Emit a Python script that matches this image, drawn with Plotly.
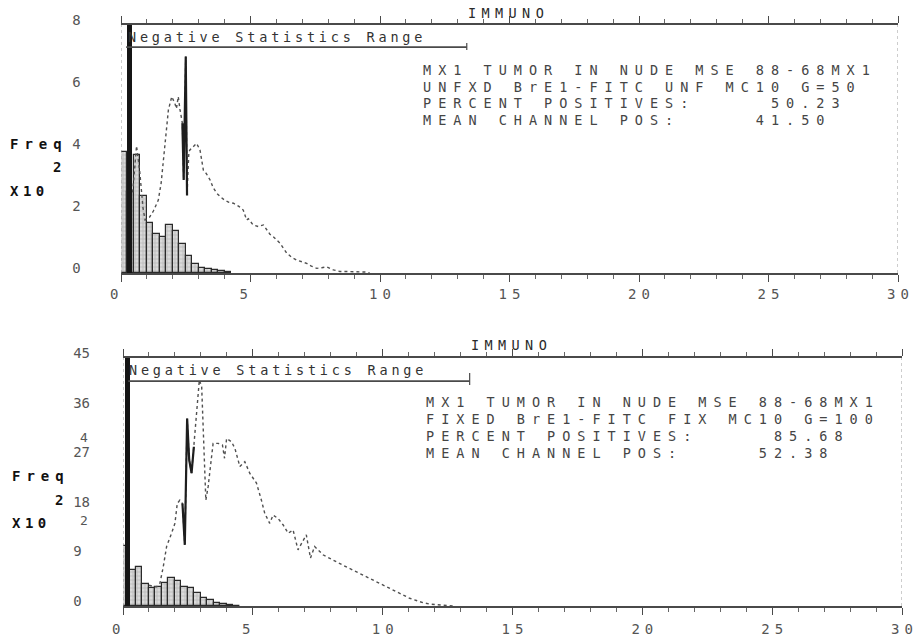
import plotly.graph_objects as go

W, H = 914, 638
MONO = "DejaVu Sans Mono"

# ---------------- data (Freq in units of 10^2) ----------------
x_tick_vals = [0, 5, 10, 15, 20, 25, 30]
x_tick_text = ["0", "5", "10", "15", "20", "25", "30"]

top_y_ticks = [0, 2, 4, 6, 8]
bot_y_ticks = [0, 9, 18, 27, 36, 45]

# Top panel: negative control histogram (bins 0.25 wide)
top_neg_x = [0.125, 0.375, 0.625, 0.875, 1.125, 1.375, 1.625, 1.875, 2.125,
             2.375, 2.625, 2.875, 3.125, 3.375, 3.625, 3.875, 4.125]
top_neg_y = [3.9, 2.6, 3.8, 2.5, 1.6, 1.25, 1.15, 1.55, 1.35,
             0.95, 0.55, 0.3, 0.16, 0.12, 0.09, 0.07, 0.04]
top_spike_x = [0.32]
top_spike_y = [20]

# Top panel: stained sample histogram
top_pos_x = [0.45, 0.6, 0.72, 0.85, 0.93, 1.1, 1.25, 1.44, 1.55, 1.63, 1.73, 1.83,
             1.96, 2.08, 2.14, 2.21, 2.28, 2.37, 2.42, 2.50, 2.55, 2.62, 2.66, 2.8,
             2.92, 3.05, 3.18, 3.3, 3.44, 3.56, 3.7, 3.85, 4.0, 4.17, 4.34, 4.55,
             4.72, 4.85, 4.92, 5.1, 5.3, 5.5, 5.62, 5.75, 5.88, 6.14, 6.4, 6.6,
             6.78, 7.0, 7.17, 7.35, 7.56, 7.75, 7.94, 8.2, 8.45, 8.7, 8.97, 9.23,
             9.45, 9.6]
top_pos_y = [2.6, 4.1, 3.3, 2.1, 1.71, 1.8, 2.0, 2.35, 2.9, 3.65, 4.5, 5.26,
             5.69, 5.47, 5.3, 5.69, 5.26, 4.83, 3.0, 6.98, 2.5, 3.9, 3.97, 4.1,
             4.18, 3.97, 3.32, 3.2, 3.0, 2.75, 2.57, 2.45, 2.35, 2.28, 2.25, 2.15,
             2.03, 1.71, 1.75, 1.55, 1.5, 1.55, 1.4, 1.25, 1.17, 0.96, 0.64, 0.5,
             0.42, 0.36, 0.31, 0.22, 0.15, 0.17, 0.2, 0.1, 0.05, 0.05, 0.04, 0.05,
             0.03, 0.0]
top_dark_x = [2.37, 2.42, 2.50, 2.55]
top_dark_y = [4.83, 3.0, 6.98, 2.5]

# Bottom panel: negative control histogram
bot_neg_x = [0.125, 0.375, 0.625, 0.875, 1.125, 1.375, 1.625, 1.875, 2.125,
             2.375, 2.625, 2.875, 3.125, 3.375, 3.625, 3.875, 4.125, 4.375]
bot_neg_y = [10.8, 6.5, 7.0, 4.0, 3.3, 3.4, 4.2, 5.0, 4.5,
             3.4, 3.3, 2.3, 1.5, 1.0, 0.6, 0.35, 0.15, 0.06]
bot_spike_x = [0.18]
bot_spike_y = [100]

# Bottom panel: stained sample histogram
bot_pos_x = [1.0, 1.2, 1.3, 1.42, 1.55, 1.68, 1.87, 2.0, 2.09, 2.19, 2.29, 2.38,
             2.47, 2.55, 2.64, 2.73, 2.83, 2.94, 3.03, 3.12, 3.19, 3.28, 3.47, 3.67,
             3.83, 3.91, 3.99, 4.18, 4.31, 4.5, 4.69, 4.88, 5.14, 5.33, 5.46, 5.65,
             5.78, 5.97, 6.17, 6.36, 6.55, 6.74, 6.93, 7.06, 7.22, 7.38, 7.7, 8.09,
             8.47, 8.86, 9.24, 9.63, 10.01, 10.4, 10.78, 11.04, 11.3, 11.55, 11.8,
             12.2, 12.45, 12.7]
bot_pos_y = [3.8, 3.5, 3.5, 4.1, 7.1, 10.8, 13.2, 15.0, 18.6, 19.2, 18.6, 11.1,
             34.0, 26.5, 24.1, 28.9, 35.0, 41.0, 39.8, 26.5, 19.2, 21.7, 29.5, 29.5,
             29.2, 26.8, 30.4, 29.8, 28.6, 25.3, 26.2, 24.1, 22.3, 19.2, 16.8, 15.0,
             16.5, 15.9, 14.7, 13.2, 13.8, 10.2, 11.7, 12.9, 8.7, 10.8, 9.3, 8.3,
             7.4, 6.5, 5.6, 4.7, 3.8, 2.9, 2.0, 1.4, 1.0, 0.6, 0.36,
             0.24, 0.12, 0.0]
bot_dark_x = [2.29, 2.38, 2.47, 2.55, 2.64, 2.73]
bot_dark_y = [18.6, 11.1, 34.0, 26.5, 24.1, 28.9]

neg_range_end = 13.35

top_info = ["MX1 TUMOR IN NUDE MSE 88-68MX1",
            "UNFXD BrE1-FITC UNF MC10 G=50",
            "PERCENT POSITIVES:     50.23",
            "MEAN CHANNEL POS:     41.50"]
bot_info = ["MX1 TUMOR IN NUDE MSE 88-68MX1",
            "FIXED BrE1-FITC FIX MC10 G=100",
            "PERCENT POSITIVES:     85.68",
            "MEAN CHANNEL POS:     52.38"]


# ---------------- helpers ----------------
def ls(text, px):
    return f'<span style="letter-spacing:{px}px">{text}</span>'


def xlab(t):
    if len(t) == 1:
        return ls(t, 5) + "\u00a0"
    return ls(t[0], 5) + t[1:]


def ylab(v):
    s = str(v)
    return s if len(s) == 2 else s + "\u00a0"


def px(x, y):
    return x / W, 1 - y / H


fig = go.Figure()

neg_marker = dict(color="#d0d0d0", line=dict(color="#2a2a2a", width=1.2),
                  pattern=dict(shape="+", fgcolor="#8c8c8c", bgcolor="#dadada",
                               size=4, solidity=0.3))

panels = [
    dict(xa="x", ya="y", neg_x=top_neg_x, neg_y=top_neg_y, sp_x=top_spike_x, sp_y=top_spike_y,
         pos_x=top_pos_x, pos_y=top_pos_y, dk_x=top_dark_x, dk_y=top_dark_y),
    dict(xa="x2", ya="y2", neg_x=bot_neg_x, neg_y=bot_neg_y, sp_x=bot_spike_x, sp_y=bot_spike_y,
         pos_x=bot_pos_x, pos_y=bot_pos_y, dk_x=bot_dark_x, dk_y=bot_dark_y),
]

for p in panels:
    fig.add_trace(go.Bar(x=p["neg_x"], y=p["neg_y"], width=0.25, marker=neg_marker,
                         xaxis=p["xa"], yaxis=p["ya"], hoverinfo="skip"))
    fig.add_trace(go.Bar(x=p["sp_x"], y=p["sp_y"], width=0.18,
                         marker=dict(color="#151515", line=dict(width=0)),
                         xaxis=p["xa"], yaxis=p["ya"], hoverinfo="skip"))
    fig.add_trace(go.Scatter(x=p["pos_x"], y=p["pos_y"], mode="lines",
                             line=dict(color="#505050", width=1.4, dash="dot"),
                             xaxis=p["xa"], yaxis=p["ya"], hoverinfo="skip"))
    fig.add_trace(go.Scatter(x=p["dk_x"], y=p["dk_y"], mode="lines",
                             line=dict(color="#1e1e1e", width=2.2),
                             xaxis=p["xa"], yaxis=p["ya"], hoverinfo="skip"))

tickfont = dict(family=MONO, size=14, color="#555555")


def xaxis_cfg(domain, anchor, standoff):
    return dict(domain=domain, anchor=anchor, range=[0, 30], showline=True,
                linecolor="#4a4a4a", linewidth=1.6, mirror="ticks", ticks="outside",
                ticklen=7, tickwidth=1.2, tickcolor="#4a4a4a",
                tickmode="array", tickvals=x_tick_vals,
                ticktext=[xlab(t) for t in x_tick_text],
                minor=dict(dtick=1, tick0=0, ticks="outside", ticklen=4,
                           tickcolor="#666666", tickwidth=1),
                showgrid=False, zeroline=False, tickfont=tickfont,
                ticklabelstandoff=standoff, fixedrange=True, automargin=False)


def yaxis_cfg(domain, anchor, rng, vals, standoff):
    return dict(domain=domain, anchor=anchor, range=rng, showline=False,
                ticks="", tickmode="array", tickvals=vals,
                ticktext=[ylab(v) for v in vals],
                showgrid=False, zeroline=False, tickfont=tickfont,
                ticklabelstandoff=standoff, ticklabelshift=-5, fixedrange=True,
                automargin=False)


fig.update_layout(
    width=W, height=H, margin=dict(l=0, r=0, t=0, b=0, pad=0, autoexpand=False),
    paper_bgcolor="white", plot_bgcolor="white", showlegend=False,
    barmode="overlay", bargap=0,
    xaxis=xaxis_cfg([121 / W, 898 / W], "y", 0),
    yaxis=yaxis_cfg([1 - 273 / H, 1 - 25 / H], "x", [0, 8], top_y_ticks, 31),
    xaxis2=xaxis_cfg([123 / W, 902 / W], "y2", 2),
    yaxis2=yaxis_cfg([1 - 606 / H, 1 - 358 / H], "x2", [0, 45], bot_y_ticks, 32),
)

shapes = []
for xr, yr, ybar, yt0, yt1 in [("x", "y", 0.911, 0.899, 0.927), ("x2", "y2", 0.907, 0.891, 0.94)]:
    shapes.append(dict(type="line", xref=xr, yref=yr + " domain", x0=0.2, x1=neg_range_end,
                       y0=ybar, y1=ybar, line=dict(color="#4a4a4a", width=1.8)))
    shapes.append(dict(type="line", xref=xr, yref=yr + " domain", x0=neg_range_end, x1=neg_range_end,
                       y0=yt0, y1=yt1, line=dict(color="#4a4a4a", width=1.2)))
    shapes.append(dict(type="line", xref=xr, yref=yr + " domain", x0=30, x1=30,
                       y0=0, y1=1, line=dict(color="#9a9a9a", width=1, dash="dot")))
    shapes.append(dict(type="line", xref=xr, yref=yr + " domain", x0=0, x1=0,
                       y0=0, y1=1, line=dict(color="#9a9a9a", width=1, dash="dot")))
fig.update_layout(shapes=shapes)

annots = []


def add_text(x, y, text, size=13.5, spacing=0, color="#404040", bold=False):
    ax, ay = px(x, y)
    t = ls(text, spacing) if spacing else text
    if bold:
        t = "<b>" + t + "</b>"
    annots.append(dict(x=ax, y=ay, xref="paper", yref="paper", text=t, showarrow=False,
                       xanchor="left", yanchor="middle", borderpad=0,
                       font=dict(family=MONO, size=size, color=color)))


# top panel texts
add_text(467, 13, "IMMUNO", 13.5, 5.4, "#2a2a2a")
add_text(127, 37, "Negative Statistics Range", 13.5, 3.8, "#333333")
for i, line in enumerate(top_info):
    add_text(422, [70, 87, 103.5, 119.5][i], line, 13.5, 7, "#454545")
add_text(9, 144, "Freq", 14, 6, "#111111", True)
add_text(52, 167, "2", 14, 0, "#111111", True)
add_text(9, 191, "X10", 14, 4.5, "#111111", True)

# bottom panel texts
add_text(470, 345, "IMMUNO", 13.5, 5.4, "#2a2a2a")
add_text(128, 370, "Negative Statistics Range", 13.5, 3.8, "#333333")
for i, line in enumerate(bot_info):
    add_text(425, [402, 419, 436, 453][i], line, 13.5, 7, "#454545")
add_text(11, 476, "Freq", 14, 6, "#111111", True)
add_text(54, 500, "2", 14, 0, "#111111", True)
add_text(11, 523, "X10", 14, 4.5, "#111111", True)
# over-printed labels from the alternate scale
add_text(79, 437, "4", 13, 0, "#555555")
add_text(79, 520, "2", 13, 0, "#555555")

fig.update_layout(annotations=annots)

fig.write_html("out.html")
